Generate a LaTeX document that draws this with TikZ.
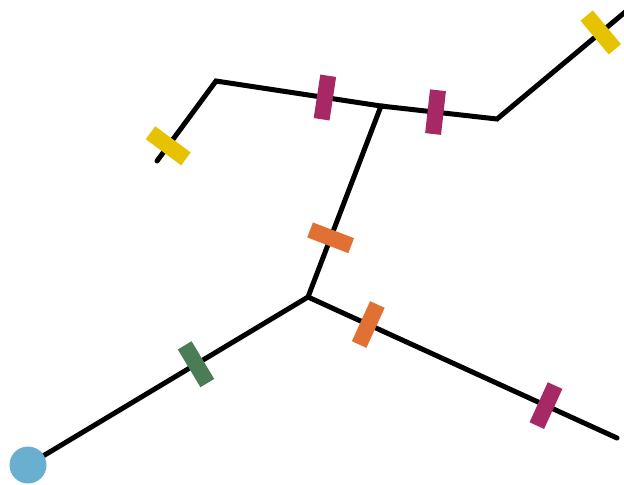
\documentclass[tikz,border=0pt]{standalone}
\usepackage{tikz}
\usetikzlibrary{positioning}

\definecolor{srcblue}{RGB}{106,174,208}
\definecolor{berry}{RGB}{166,40,100}
\definecolor{rust}{RGB}{224,112,52}
\definecolor{moss}{RGB}{74,124,86}
\definecolor{gold}{RGB}{230,194,0}

\begin{document}
\begin{tikzpicture}[x=0.5pt, y=-0.5pt,
    pipe/.style={line width=2.5pt, line cap=round},
    valve/.style={sloped, rectangle, inner sep=0pt, minimum width=8pt, minimum height=22pt}]
  \useasboundingbox (0,0) rectangle (624,484);
  % junctions and ends
  \coordinate (s)    at (28,465);
  \coordinate (jA)   at (308,297);
  \coordinate (jB)   at (381,106);
  \coordinate (kC)   at (216,81);
  \coordinate (endC) at (157,161);
  \coordinate (kE)   at (497,119);
  \coordinate (endE) at (630,8);
  \coordinate (endG) at (617,438);
  % pipes with valves
  \draw[pipe] (s) -- node[valve, fill=moss, pos=0.6] (v1) {}
    (jA) -- node[valve, fill=rust, pos=0.31] (v2) {}
    (jB) -- node[valve, fill=berry, pos=0.34] (v3) {}
    (kC) -- node[valve, fill=gold, pos=0.81] (v4) {} (endC);
  \draw[pipe] (jB) -- node[valve, fill=berry, pos=0.47] (v5) {}
    (kE) -- node[valve, fill=gold, pos=0.78] (v6) {} (endE);
  \draw[pipe] (jA) -- node[valve, fill=rust, pos=0.195] (v7) {}
    node[valve, fill=berry, pos=0.77] (v8) {} (endG);
  % source
  \node[circle, fill=srcblue, inner sep=0pt, minimum size=18.5pt] (src) at (s) {};
\end{tikzpicture}
\end{document}
